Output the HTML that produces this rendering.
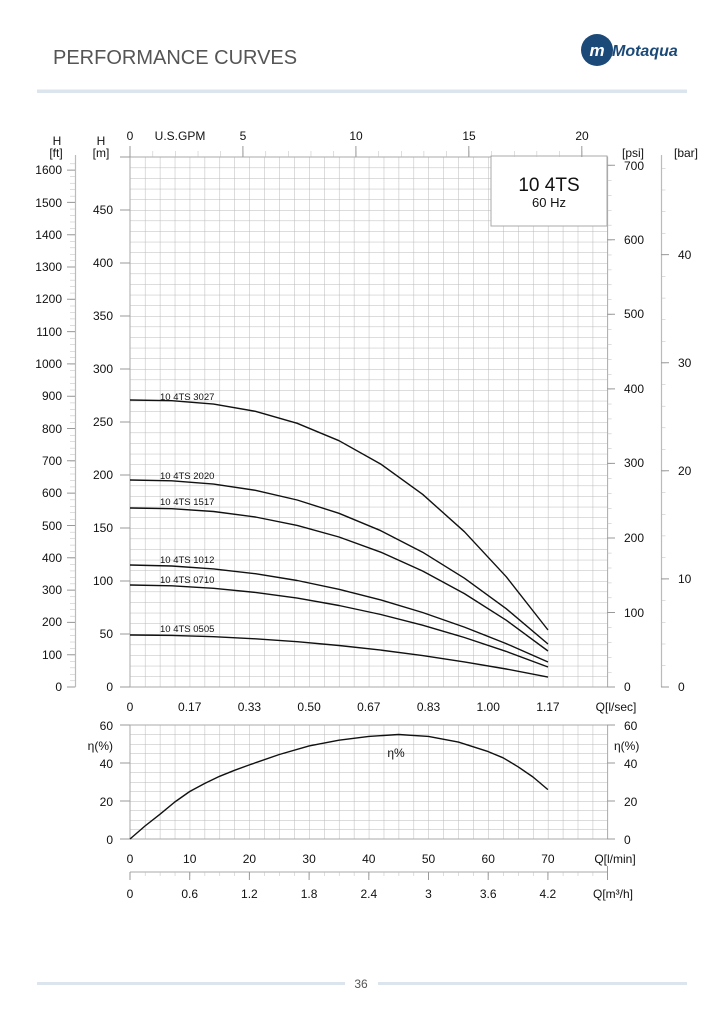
<!DOCTYPE html>
<html><head><meta charset="utf-8"><style>
html,body{margin:0;padding:0;background:#fff;}
svg{display:block;font-family:"Liberation Sans",sans-serif;}
</style></head><body>
<svg width="724" height="1024" viewBox="0 0 724 1024" xmlns="http://www.w3.org/2000/svg">
<defs>
<pattern id="g1" patternUnits="userSpaceOnUse" width="14.925" height="10.6" patternTransform="translate(130,157)">
<path d="M0 0V10.6M0 0H14.925" stroke="#b8b8b8" stroke-width="1" fill="none"/></pattern>
<pattern id="g2" patternUnits="userSpaceOnUse" width="14.925" height="9.5" patternTransform="translate(130,725)">
<path d="M0 0V9.5M0 0H14.925" stroke="#b8b8b8" stroke-width="1" fill="none"/></pattern>
<pattern id="tft" patternUnits="userSpaceOnUse" width="10" height="6.462" patternTransform="translate(0,687)">
<path d="M0 0H10" stroke="#bbb" stroke-width="1"/></pattern>
<pattern id="tpsi" patternUnits="userSpaceOnUse" width="10" height="14.906" patternTransform="translate(0,687)">
<path d="M0 0H10" stroke="#bbb" stroke-width="1"/></pattern>
<pattern id="tbar" patternUnits="userSpaceOnUse" width="10" height="21.62" patternTransform="translate(0,687)">
<path d="M0 0H10" stroke="#bbb" stroke-width="1"/></pattern>
<pattern id="tgpm" patternUnits="userSpaceOnUse" width="22.59" height="10" patternTransform="translate(130,0)">
<path d="M0 0V10" stroke="#bbb" stroke-width="1"/></pattern>
<pattern id="tm3" patternUnits="userSpaceOnUse" width="14.925" height="10" patternTransform="translate(130,0)">
<path d="M0 0V10" stroke="#bbb" stroke-width="1"/></pattern>
</defs>

<!-- header -->
<text x="53" y="64" font-size="20" fill="#555">PERFORMANCE CURVES</text>
<rect x="37" y="89.5" width="650" height="3.5" fill="#dce4ee"/>
<g>
<circle cx="597" cy="50" r="16" fill="#1b4a78"/>
<text x="597" y="56" font-size="17" font-weight="bold" font-style="italic" fill="#fff" text-anchor="middle">m</text>
<text x="612" y="56" font-size="16" font-weight="bold" font-style="italic" fill="#1b4a78">Motaqua</text>
</g>

<!-- top grid -->
<rect x="130" y="157" width="477.6" height="530" fill="url(#g1)"/>
<rect x="130" y="157" width="477.6" height="530" fill="none" stroke="#aaa" stroke-width="1"/>
<!-- info box -->
<rect x="491" y="156" width="116" height="70" fill="#fff" stroke="#aaa" stroke-width="1"/>
<text x="549" y="191" font-size="19" text-anchor="middle" fill="#111">10 4TS</text>
<text x="549" y="207" font-size="13" text-anchor="middle" fill="#111">60 Hz</text>

<!-- GPM top axis -->
<rect x="130" y="151" width="455" height="6" fill="url(#tgpm)"/>
<g stroke="#999" stroke-width="1">
<path d="M130 146V157M242.9 146V157M355.9 146V157M468.8 146V157M581.8 146V157"/>
</g>
<g font-size="12" fill="#111" text-anchor="middle">
<text x="130" y="140">0</text><text x="180" y="140">U.S.GPM</text>
<text x="243" y="140">5</text><text x="356" y="140">10</text>
<text x="469" y="140">15</text><text x="582" y="140">20</text>
</g>

<!-- ft axis -->
<line x1="75.5" y1="155" x2="75.5" y2="687" stroke="#bbb" stroke-width="1.2"/>
<rect x="70" y="160" width="5.5" height="527.5" fill="url(#tft)"/>
<g stroke="#999" stroke-width="1">
<path d="M67 687H75M67 654.7H75M67 622.4H75M67 590.1H75M67 557.8H75M67 525.5H75M67 493.1H75M67 460.8H75M67 428.5H75M67 396.2H75M67 363.9H75M67 331.6H75M67 299.3H75M67 267H75M67 234.7H75M67 202.4H75M67 170.1H75"/>
</g>
<g font-size="12" fill="#111" text-anchor="end">
<text x="57" y="145" text-anchor="middle">H</text><text x="56" y="157" text-anchor="middle">[ft]</text>
<text x="62" y="691">0</text><text x="62" y="659">100</text><text x="62" y="626">200</text><text x="62" y="594">300</text>
<text x="62" y="562">400</text><text x="62" y="530">500</text><text x="62" y="497">600</text><text x="62" y="465">700</text>
<text x="62" y="433">800</text><text x="62" y="400">900</text><text x="62" y="368">1000</text><text x="62" y="336">1100</text>
<text x="62" y="303">1200</text><text x="62" y="271">1300</text><text x="62" y="239">1400</text><text x="62" y="207">1500</text>
<text x="62" y="174">1600</text>
</g>
<!-- m axis -->
<g stroke="#999" stroke-width="1">
<path d="M120 687H130M120 634H130M120 581H130M120 528H130M120 475H130M120 422H130M120 369H130M120 316H130M120 263H130M120 210H130M120 157H130"/>
</g>
<g font-size="12" fill="#111" text-anchor="end">
<text x="101" y="145" text-anchor="middle">H</text><text x="101" y="157" text-anchor="middle">[m]</text>
<text x="113" y="691">0</text><text x="113" y="638">50</text><text x="113" y="585">100</text><text x="113" y="532">150</text>
<text x="113" y="479">200</text><text x="113" y="426">250</text><text x="113" y="373">300</text><text x="113" y="320">350</text>
<text x="113" y="267">400</text><text x="113" y="214">450</text>
</g>
<!-- psi axis -->
<rect x="607.6" y="165" width="4" height="522.5" fill="url(#tpsi)"/>
<g stroke="#999" stroke-width="1">
<path d="M607 687H615M607 612.5H615M607 538H615M607 463.4H615M607 388.9H615M607 314.3H615M607 239.8H615M607 165.3H615"/>
</g>
<g font-size="12" fill="#111">
<text x="622" y="157">[psi]</text>
<text x="624" y="691">0</text><text x="624" y="617">100</text><text x="624" y="542">200</text><text x="624" y="467">300</text>
<text x="624" y="393">400</text><text x="624" y="318">500</text><text x="624" y="244">600</text><text x="624" y="170">700</text>
</g>
<!-- bar axis -->
<line x1="661.5" y1="155" x2="661.5" y2="687" stroke="#bbb" stroke-width="1.2"/>
<rect x="661.5" y="160" width="4" height="527.5" fill="url(#tbar)"/>
<g stroke="#999" stroke-width="1">
<path d="M661 687H669M661 578.9H669M661 470.8H669M661 362.7H669M661 254.6H669"/>
</g>
<g font-size="12" fill="#111">
<text x="674" y="157">[bar]</text>
<text x="678" y="691">0</text><text x="678" y="583">10</text><text x="678" y="475">20</text>
<text x="678" y="367">30</text><text x="678" y="259">40</text>
</g>

<!-- head curves -->
<g fill="none" stroke="#111" stroke-width="1.4" stroke-linejoin="round">
<polyline points="130,400 171.8,400.7 213.6,404.1 255.4,411.3 297.2,423.3 339,440.7 380.8,464.1 422.6,494.3 464.4,531.7 506.2,576.7 548,630"/>
<polyline points="130,480 171.8,480.8 213.6,484.1 255.4,490.3 297.2,500 339,513.3 380.8,530.7 422.6,552.2 464.4,578.2 506.2,608.7 548,644"/>
<polyline points="130,508 171.8,508.7 213.6,511.5 255.4,517 297.2,525.4 339,537 380.8,552.2 422.6,571 464.4,593.6 506.2,620.2 548,651"/>
<polyline points="130,565 171.8,566 213.6,568.9 255.4,573.7 297.2,580.5 339,589.3 380.8,599.9 422.6,612.5 464.4,627.1 506.2,643.6 548,662"/>
<polyline points="130,585 171.8,585.8 213.6,588.3 255.4,592.4 297.2,598.1 339,605.5 380.8,614.5 422.6,625.2 464.4,637.5 506.2,651.4 548,667"/>
<polyline points="130,635 171.8,635.4 213.6,636.7 255.4,638.8 297.2,641.7 339,645.5 380.8,650.1 422.6,655.6 464.4,661.9 506.2,669 548,677"/>
</g>
<g font-size="9.5" fill="#111">
<text x="160" y="400">10 4TS 3027</text>
<text x="160" y="479">10 4TS 2020</text>
<text x="160" y="505">10 4TS 1517</text>
<text x="160" y="563">10 4TS 1012</text>
<text x="160" y="583">10 4TS 0710</text>
<text x="160" y="632">10 4TS 0505</text>
</g>
<g font-size="12" fill="#111" text-anchor="middle">
<text x="130" y="711">0</text><text x="189.7" y="711">0.17</text><text x="249.4" y="711">0.33</text><text x="309.1" y="711">0.50</text>
<text x="368.8" y="711">0.67</text><text x="428.5" y="711">0.83</text><text x="488.2" y="711">1.00</text><text x="547.9" y="711">1.17</text>
<text x="616" y="711">Q[l/sec]</text>
</g>

<!-- efficiency chart -->
<rect x="130" y="725" width="477.6" height="114" fill="url(#g2)"/>
<rect x="130" y="725" width="477.6" height="114" fill="none" stroke="#aaa" stroke-width="1"/>
<g stroke="#999" stroke-width="1">
<path d="M120 725H130M120 763H130M120 801H130M120 839H130M607 725H615M607 763H615M607 801H615M607 839H615"/>
</g>
<polyline fill="none" stroke="#111" stroke-width="1.4" stroke-linejoin="round" points="130,839 145,826 159.9,814.3 174.8,802 189.7,791.5 204.6,783.5 219.6,776.3 234.5,770.3 249.4,764.9 279.3,754.5 309.1,745.9 339,740.2 368.8,736.4 398.7,734.5 428.5,736.4 458.4,742.1 488.2,751.6 503.1,757.8 518.1,766.8 533,777 547.9,789.6"/>
<text x="396" y="757" font-size="12" fill="#111" text-anchor="middle">η%</text>
<g font-size="12" fill="#111" text-anchor="end">
<text x="113" y="730">60</text><text x="113" y="750">η(%)</text><text x="113" y="768">40</text>
<text x="113" y="806">20</text><text x="113" y="844">0</text>
</g>
<g font-size="12" fill="#111">
<text x="624" y="730">60</text><text x="614" y="750">η(%)</text><text x="624" y="768">40</text>
<text x="624" y="806">20</text><text x="624" y="844">0</text>
</g>
<g font-size="12" fill="#111" text-anchor="middle">
<text x="130" y="863">0</text><text x="189.7" y="863">10</text><text x="249.4" y="863">20</text><text x="309.1" y="863">30</text>
<text x="368.8" y="863">40</text><text x="428.5" y="863">50</text><text x="488.2" y="863">60</text><text x="547.9" y="863">70</text>
<text x="615" y="863">Q[l/min]</text>
</g>
<!-- m3/h axis -->
<line x1="130" y1="872" x2="607.6" y2="872" stroke="#bbb" stroke-width="1.2"/>
<rect x="130" y="872" width="478" height="4" fill="url(#tm3)"/>
<g stroke="#999" stroke-width="1">
<path d="M130 872V880M189.7 872V880M249.4 872V880M309.1 872V880M368.8 872V880M428.5 872V880M488.2 872V880M547.9 872V880M607.5 866V880"/>
</g>
<g font-size="12" fill="#111" text-anchor="middle">
<text x="130" y="898">0</text><text x="189.7" y="898">0.6</text><text x="249.4" y="898">1.2</text><text x="309.1" y="898">1.8</text>
<text x="368.8" y="898">2.4</text><text x="428.5" y="898">3</text><text x="488.2" y="898">3.6</text><text x="547.9" y="898">4.2</text>
<text x="613" y="898">Q[m³/h]</text>
</g>

<!-- footer -->
<rect x="37" y="982" width="308" height="3" fill="#dce4ee"/>
<rect x="378" y="982" width="309" height="3" fill="#dce4ee"/>
<text x="361" y="988" font-size="12" fill="#555" text-anchor="middle">36</text>
</svg>
</body></html>
